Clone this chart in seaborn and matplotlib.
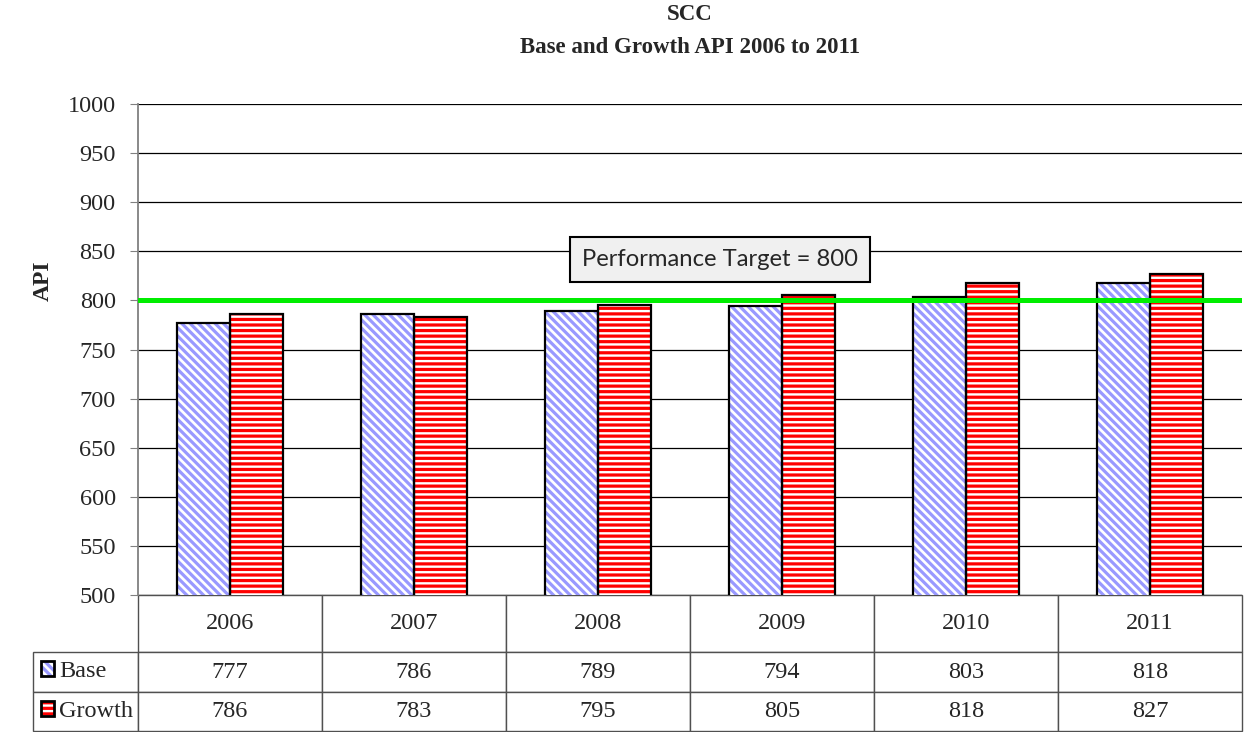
import pandas as pd
import matplotlib
matplotlib.use("Agg")
import matplotlib.pyplot as plt
import matplotlib.patches as mpatches
import seaborn as sns

years = ["2006", "2007", "2008", "2009", "2010", "2011"]
base = [777, 786, 789, 794, 803, 818]
growth = [786, 783, 795, 805, 818, 827]
series = ["Base", "Growth"]
target = 800

df = pd.DataFrame({
    "year": years * 2,
    "series": ["Base"] * len(years) + ["Growth"] * len(years),
    "api": base + growth,
})

sns.set_style("white")
plt.rcParams["font.family"] = ["Liberation Serif", "DejaVu Serif"]
plt.rcParams["hatch.linewidth"] = 2.3

hatch_colors = {"Base": "#9999FF", "Growth": "#FF0000"}
hatches = {"Base": "\\\\\\\\", "Growth": "---"}

fig = plt.figure(figsize=(12.45, 7.32), dpi=100)
ax = fig.add_axes([138 / 1245, 1 - 595 / 732, 1104 / 1245, 491 / 732])

# hatched fill
sns.barplot(data=df, x="year", y="api", hue="series", order=years, hue_order=series,
            width=0.58, palette=["white", "white"], legend=False, ax=ax, zorder=3)
n = len(years)
for i, p in enumerate(ax.patches):
    s = series[i // n]
    p.set_hatch(hatches[s])
    p.set_edgecolor(hatch_colors[s])
    p.set_linewidth(0)
    p.set_facecolor("white")
n_first = len(ax.patches)

# black outlines
sns.barplot(data=df, x="year", y="api", hue="series", order=years, hue_order=series,
            width=0.58, fill=False, legend=False, ax=ax, zorder=4)
for p in ax.patches[n_first:]:
    p.set_edgecolor("black")
    p.set_linewidth(1.6)

ax.set_ylim(500, 1000)
ax.set_xlim(-0.5, len(years) - 0.5)
ax.set_yticks(range(500, 1001, 50))
ax.yaxis.grid(True, color="black", linewidth=0.9, zorder=0)
ax.set_axisbelow(True)
ax.tick_params(axis="y", labelsize=17.5, length=6, color="#808080", direction="out", left=True, pad=10)
ax.set_xticks([])
ax.set_xlabel("")
for side in ["top", "right", "bottom"]:
    ax.spines[side].set_visible(False)
ax.spines["left"].set_color("#808080")
ax.spines["left"].set_linewidth(1.3)

ax.set_ylabel("API", fontsize=17, fontweight="bold")
ax.yaxis.set_label_coords(-0.076, 0.64)

ax.axhline(target, color="#00EE00", linewidth=3.6, zorder=5)
ax.text(2.665, 842, f"Performance Target = {target}", ha="center", va="center",
        fontsize=17.2, family=["Lato", "DejaVu Sans"], zorder=6,
        bbox=dict(boxstyle="square,pad=0.5", fc="#F0F0F0", ec="black", lw=1.5))

ax.set_title("SCC\nBase and Growth API 2006 to 2011", fontsize=16.5, fontweight="bold",
             pad=37, linespacing=1.7)

# data table under the chart: first column holds the series names (drawn by the legend)
cell_text = [[""] + [str(v) for v in base], [""] + [str(v) for v in growth]]
tab = ax.table(cellText=cell_text, colLabels=[""] + years,
               cellLoc="center", colLoc="center",
               bbox=[-105 / 1104, -136 / 491, 1 + 105 / 1104, 136 / 491])
tab.auto_set_font_size(False)
tab.set_fontsize(17.5)
heights = {0: 57, 1: 40, 2: 39}
for (r, c), cell in tab.get_celld().items():
    cell.set_height(heights[r])
    cell.set_width(105 if c == 0 else 184)
    cell.set_linewidth(1.0)
    cell.set_edgecolor("#505050")
    if r == 0 and c == 0:
        cell.visible_edges = ""

handles = [
    mpatches.Patch(facecolor="white", edgecolor=hatch_colors["Base"], hatch="\\\\\\\\", linewidth=0),
    mpatches.Patch(facecolor="white", edgecolor=hatch_colors["Growth"], hatch="---", linewidth=0),
]
outline = [mpatches.Patch(facecolor="none", edgecolor="black", linewidth=2) for _ in series]
leg = ax.legend([(h, o) for h, o in zip(handles, outline)], series, loc="upper left",
                bbox_to_anchor=(-97 / 1104, -66 / 491), frameon=False, fontsize=17.5,
                handlelength=0.55, handleheight=0.55, handletextpad=0.2,
                labelspacing=0.78, borderpad=0.0, borderaxespad=0)

fig.savefig("out.png", dpi=100)
